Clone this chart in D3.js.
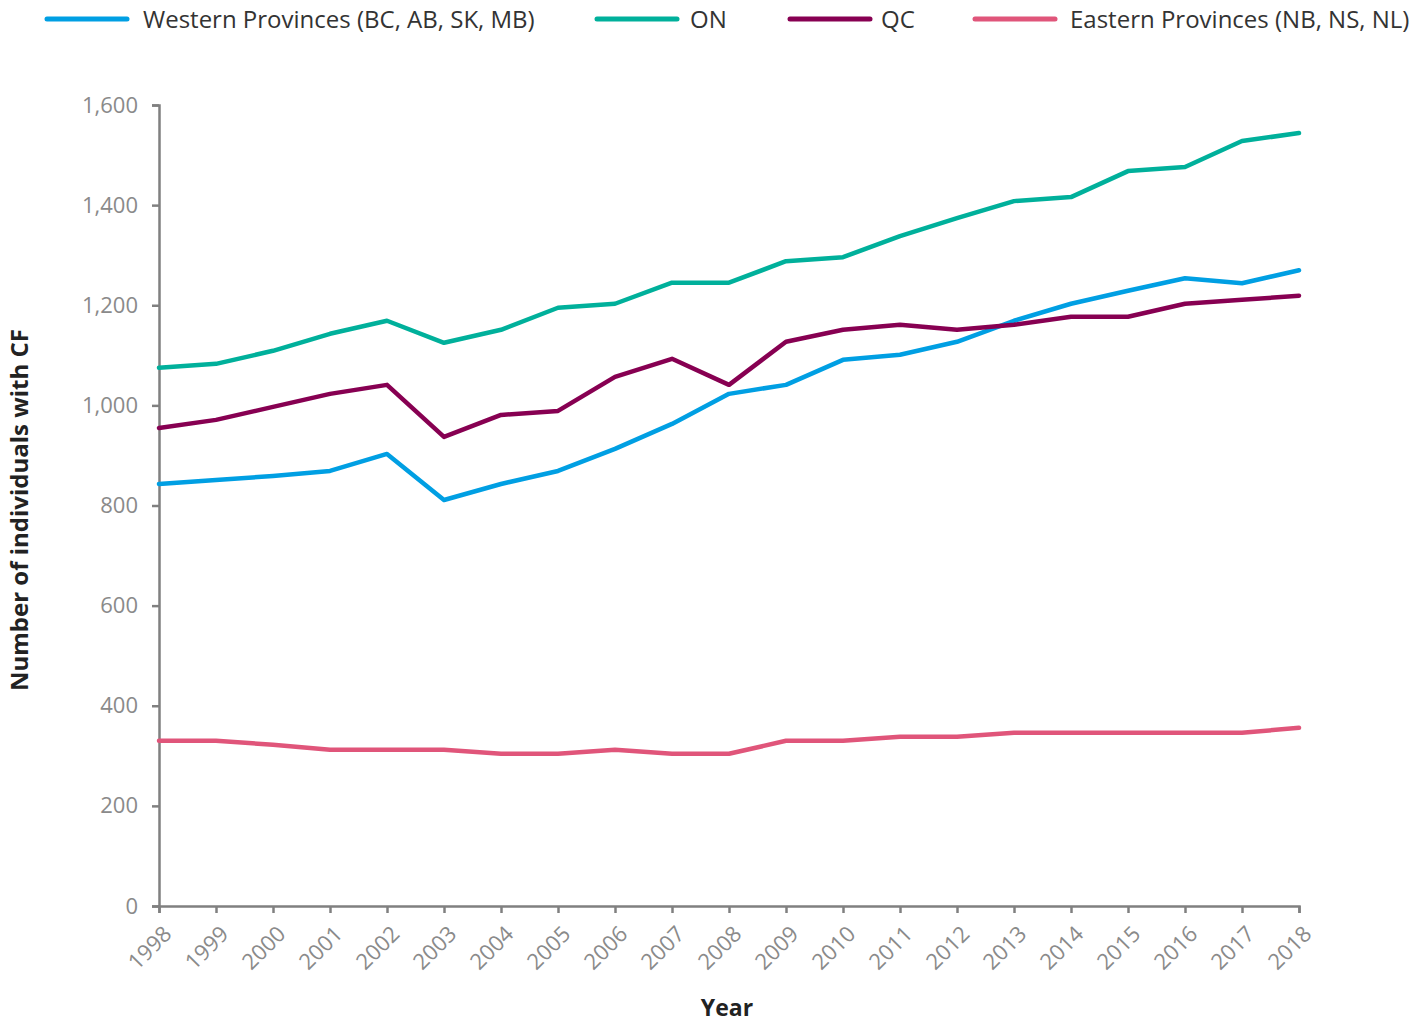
<!DOCTYPE html>
<html><head><meta charset="utf-8">
<script src="https://cdn.jsdelivr.net/npm/d3@7"></script>
<style>body{margin:0;background:#fff;font-family:"Open Sans",sans-serif;}</style>
</head><body><svg id="c" width="1427" height="1025"></svg>
<script>
const years = [1998,1999,2000,2001,2002,2003,2004,2005,2006,2007,2008,2009,2010,2011,2012,2013,2014,2015,2016,2017,2018];
const western = [843,851,859,869,903,811,843,869,913,963,1023,1041,1091,1101,1127,1169,1203,1229,1254,1244,1270];
const ontario = [1075,1083,1109,1143,1169,1125,1151,1195,1203,1245,1245,1288,1296,1338,1374,1408,1416,1468,1476,1528,1544];
const quebec = [955,971,997,1023,1041,937,981,989,1057,1093,1041,1127,1151,1161,1151,1161,1177,1177,1203,1211,1219];
const eastern = [330,330,322,312,312,312,304,304,312,304,304,330,330,338,338,346,346,346,346,346,356];
const yTicks = [0,200,400,600,800,1000,1200,1400,1600];
const seriesNames = ["Western Provinces (BC, AB, SK, MB)","ON","QC","Eastern Provinces (NB, NS, NL)"];
const colors = ["#009fe3","#00b09b","#870052","#e0557a"];
const seriesVals = [western, ontario, quebec, eastern];

const svg = d3.select("#c");
const x = d3.scaleLinear().domain([1998,2018]).range([159,1299]);
const y = d3.scaleLinear().domain([0,1600]).range([906,105]);
const axisCol = "#808080";

const gy = svg.append("g").attr("transform","translate(159,0)")
  .call(d3.axisLeft(y).tickValues(yTicks).tickSize(7).tickPadding(14).tickFormat(d3.format(",")));
const gx = svg.append("g").attr("transform","translate(0,906)")
  .call(d3.axisBottom(x).tickValues(years).tickSize(7).tickFormat(d3.format("d")));
[gx,gy].forEach(g=>{
  g.select(".domain").attr("stroke",axisCol).attr("stroke-width",2.5);
  g.selectAll(".tick line").attr("stroke",axisCol).attr("stroke-width",2.5);
  g.selectAll("text").attr("fill","#8a8a8a").style("font-family","Open Sans").style("font-size","22px");
});
gx.selectAll(".tick text").attr("text-anchor","end").attr("dy","0.35em")
  .attr("transform","translate(8,24) rotate(-45)").attr("y",0).attr("x",0);

const line = d3.line().x((d,i)=>x(years[i])).y(d=>y(d));
seriesVals.forEach((vals,k)=>{
  svg.append("path").datum(vals).attr("d",line).attr("fill","none")
    .attr("stroke",colors[k]).attr("stroke-width",4.5).attr("stroke-linejoin","round").attr("stroke-linecap","round");
});

svg.append("text").attr("transform","translate(28,510) rotate(-90)").attr("text-anchor","middle")
  .style("font-size","24px").style("font-weight","bold").attr("fill","#222").text("Number of individuals with CF");
svg.append("text").attr("x",727).attr("y",1016).attr("text-anchor","middle")
  .style("font-size","23px").style("font-weight","bold").attr("fill","#222").text("Year");

const legX = [47,597,790,975];
const legTextX = [143,690,881,1070];
seriesNames.forEach((n,k)=>{
  svg.append("line").attr("x1",legX[k]).attr("x2",legX[k]+80).attr("y1",19).attr("y2",19)
    .attr("stroke",colors[k]).attr("stroke-width",5).attr("stroke-linecap","round");
  svg.append("text").attr("x",legTextX[k]).attr("y",28).style("font-size","24px").attr("fill","#333").text(n);
});
</script></body></html>
